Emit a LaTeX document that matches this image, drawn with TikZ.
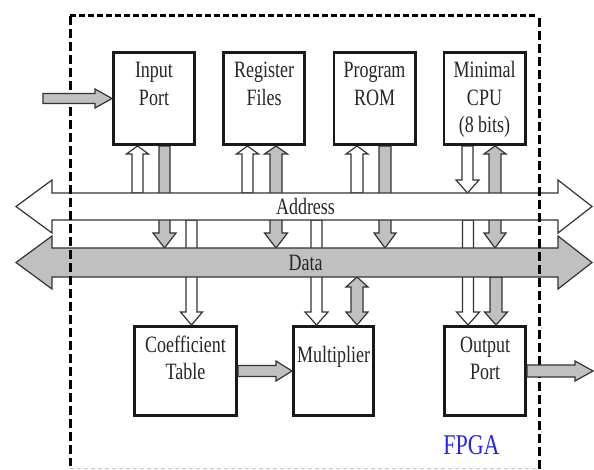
\documentclass[tikz,border=0pt]{standalone}
\usepackage{fontspec}
\setmainfont{Liberation Serif}
\usepackage{graphicx}
\usetikzlibrary{calc}

\definecolor{edge}{HTML}{333333}
\definecolor{busgray}{HTML}{C0C0C0}
\definecolor{fpgablue}{HTML}{2424F0}

% single block arrow: style, from, to, shaft half-width, head half-width, head length
\newcommand\blockarrow[6]{%
  \coordinate (bahb) at ($(#3)!#6!(#2)$);
  \draw[#1] ($(#2)!#4!90:(#3)$) -- ($(bahb)!#4!-90:(#2)$) -- ($(bahb)!#5!-90:(#2)$)
    -- (#3) -- ($(bahb)!#5!90:(#2)$) -- ($(bahb)!#4!90:(#2)$)
    -- ($(#2)!#4!-90:(#3)$) -- cycle;}
% double block arrow: style, from, to, shaft half-width, head half-width,
% head length at 'to', head length at 'from'
\newcommand\dblockarrow[7]{%
  \coordinate (dba) at ($(#2)!#7!(#3)$);
  \coordinate (dbb) at ($(#3)!#6!(#2)$);
  \draw[#1] (#2) -- ($(dba)!#5!90:(#3)$) -- ($(dba)!#4!90:(#3)$)
    -- ($(dbb)!#4!-90:(#2)$) -- ($(dbb)!#5!-90:(#2)$) -- (#3)
    -- ($(dbb)!#5!90:(#2)$) -- ($(dbb)!#4!90:(#2)$)
    -- ($(dba)!#4!-90:(#3)$) -- ($(dba)!#5!-90:(#3)$) -- cycle;}
% vertically stretched stacked text
\newcommand\stk[1]{\scalebox{1}[1.3]{\begin{tabular}[t]{@{}c@{}}#1\end{tabular}}}

\tikzset{
  box/.style={draw=black!90, line width=2.8pt, fill=white, rectangle, inner sep=0pt},
  topbox/.style={box, minimum width=81.2pt, minimum height=92.2pt},
  warrow/.style={draw=edge, line width=1.2pt, fill=white, line join=miter},
  garrow/.style={draw=edge, line width=1.2pt, fill=busgray, line join=miter},
  lbl/.style={inner sep=0pt, text=black!85, font=\fontsize{18}{20.8}\selectfont},
}

\begin{document}
\begin{tikzpicture}[x=1pt, y=-1pt]
\useasboundingbox (0,0) rectangle (594,470);

% function blocks
\node[topbox] (ip)  at (154,98.5)   {};
\node[topbox] (rf)  at (264,98.5)   {};
\node[topbox] (pr)  at (374.5,98.5) {};
\node[topbox] (cpu) at (484.5,98.5) {};
\node[box, minimum width=102.2pt, minimum height=89.2pt] (ct) at (185.5,371) {};
\node[box, minimum width=80.2pt,  minimum height=89.2pt] (ml) at (333.5,371) {};
\node[box, minimum width=81.2pt,  minimum height=89.2pt] (op) at (485,371)   {};

% bus ends and edges
\coordinate (addrL) at (16,206.5);  \coordinate (addrR) at (592,206.5);
\coordinate (dataL) at (16,262.5);  \coordinate (dataR) at (592,262.5);
\coordinate (addrTop) at (300,193); \coordinate (addrBot) at (300,220);
\coordinate (dataTop) at (300,248); \coordinate (dataBot) at (300,277);

% taps on the blocks
\coordinate (ipU)  at ([xshift=-16.5pt]ip.south);  \coordinate (ipUb)  at (ipU  |- addrTop);
\coordinate (ipD)  at ([xshift=10.5pt]ip.south);   \coordinate (ipDb)  at (ipD  |- dataTop);
\coordinate (rfU)  at ([xshift=-16.5pt]rf.south);  \coordinate (rfUb)  at (rfU  |- addrTop);
\coordinate (rfD)  at ([xshift=12pt]rf.south);     \coordinate (rfDb)  at (rfD  |- dataTop);
\coordinate (prU)  at ([xshift=-17.5pt]pr.south);  \coordinate (prUb)  at (prU  |- addrTop);
\coordinate (prD)  at ([xshift=10.5pt]pr.south);   \coordinate (prDb)  at (prD  |- dataTop);
\coordinate (cpuW) at ([xshift=-17pt]cpu.south);   \coordinate (cpuWb) at (cpuW |- addrTop);
\coordinate (cpuD) at ([xshift=10.5pt]cpu.south);  \coordinate (cpuDb) at (cpuD |- dataTop);
\coordinate (ctW)  at ([xshift=6pt]ct.north);      \coordinate (ctWb)  at (ctW  |- addrBot);
\coordinate (mlW)  at ([xshift=-17pt]ml.north);    \coordinate (mlWb)  at (mlW  |- addrBot);
\coordinate (mlG)  at ([xshift=23.5pt]ml.north);   \coordinate (mlGb)  at (mlG  |- dataBot);
\coordinate (opW)  at ([xshift=-17pt]op.north);    \coordinate (opWb)  at (opW  |- addrBot);
\coordinate (opG)  at ([xshift=11pt]op.north);     \coordinate (opGb)  at (opG  |- dataBot);

% bus connections
\blockarrow{warrow}{ipUb}{ipU}{5.5pt}{11pt}{8pt}
\blockarrow{garrow}{ipD}{ipDb}{5.5pt}{11.5pt}{15pt}
\blockarrow{warrow}{rfUb}{rfU}{5.5pt}{11pt}{8pt}
\dblockarrow{garrow}{rfD}{rfDb}{6pt}{11.5pt}{15pt}{8pt}
\blockarrow{warrow}{prUb}{prU}{6pt}{11pt}{8pt}
\blockarrow{garrow}{prD}{prDb}{6pt}{11pt}{15pt}
\blockarrow{warrow}{cpuW}{cpuWb}{5.5pt}{11.5pt}{13pt}
\dblockarrow{garrow}{cpuD}{cpuDb}{6pt}{11pt}{15pt}{8pt}
\blockarrow{warrow}{ctWb}{ctW}{5.5pt}{11pt}{13pt}
\blockarrow{warrow}{mlWb}{mlW}{5.5pt}{11.5pt}{13pt}
\dblockarrow{garrow}{mlGb}{mlG}{6pt}{11pt}{13pt}{10pt}
\blockarrow{warrow}{opWb}{opW}{5.5pt}{11.5pt}{13pt}
\blockarrow{garrow}{opGb}{opG}{6pt}{11.5pt}{13pt}

% address and data buses
\dblockarrow{warrow}{addrL}{addrR}{13.5pt}{26.5pt}{34pt}{36pt}
\dblockarrow{garrow}{dataL}{dataR}{14.5pt}{26.5pt}{34pt}{36pt}

% FPGA boundary, built from short bold dashes
\foreach \t in {0,9,...,462}
  \fill[black] (70+\t,14.5) rectangle ({min(76+\t,540)},17.5);
\foreach \t in {0,13,...,442}
  \fill[black] (68.5,16+\t) rectangle (71.5,{min(25+\t,466)});
\foreach \t in {0,13,...,442}
  \fill[black] (537.5,18+\t) rectangle (540.5,{min(27+\t,470)});
\foreach \t in {0,7,...,462}
  \fill[black!22] (70+\t,467.6) rectangle ({min(74+\t,539)},468.6);

% blocks redrawn above the bus taps
\node[topbox] at (ip)  {};
\node[topbox] at (rf)  {};
\node[topbox] at (pr)  {};
\node[topbox] at (cpu) {};

% external and internal data paths
\coordinate (inSrc)  at ([xshift=-69pt]ip.west);
\coordinate (outDst) at ([xshift=66pt]op.east);
\blockarrow{garrow}{inSrc}{ip.west}{5pt}{9.5pt}{17pt}
\blockarrow{garrow}{ct.east}{ml.west}{5.5pt}{10pt}{16pt}
\blockarrow{garrow}{op.east}{outDst}{6pt}{10pt}{18pt}

% labels
\node[lbl, anchor=base] (ipT)  at ([yshift=-27pt]ip.north)  {\stk{Input\\Port}};
\node[lbl, anchor=base] (rfT)  at ([yshift=-27pt]rf.north)  {\stk{Register\\Files}};
\node[lbl, anchor=base] (prT)  at ([yshift=-27pt]pr.north)  {\stk{Program\\ROM}};
\node[lbl, anchor=base] (cpuT) at ([yshift=-27pt]cpu.north) {\stk{Minimal\\CPU\\(8 bits)}};
\node[lbl, anchor=base] (ctT)  at ([yshift=-27pt]ct.north)  {\stk{Coefficient\\Table}};
\node[lbl, anchor=base] (mlT)  at ([yshift=-37pt]ml.north)  {\stk{Multiplier}};
\node[lbl, anchor=base] (opT)  at ([yshift=-27pt]op.north)  {\stk{Output\\Port}};
\node[lbl, anchor=base] (addrT) at (305.5,215) {\stk{Address}};
\node[lbl, anchor=base] (dataT) at (305.5,271) {\stk{Data}};
\node[anchor=base, inner sep=0pt, text=fpgablue, font=\fontsize{22}{26}\selectfont]
  (fpga) at (471.5,454) {\scalebox{1}[1.3]{FPGA}};
\end{tikzpicture}
\end{document}
